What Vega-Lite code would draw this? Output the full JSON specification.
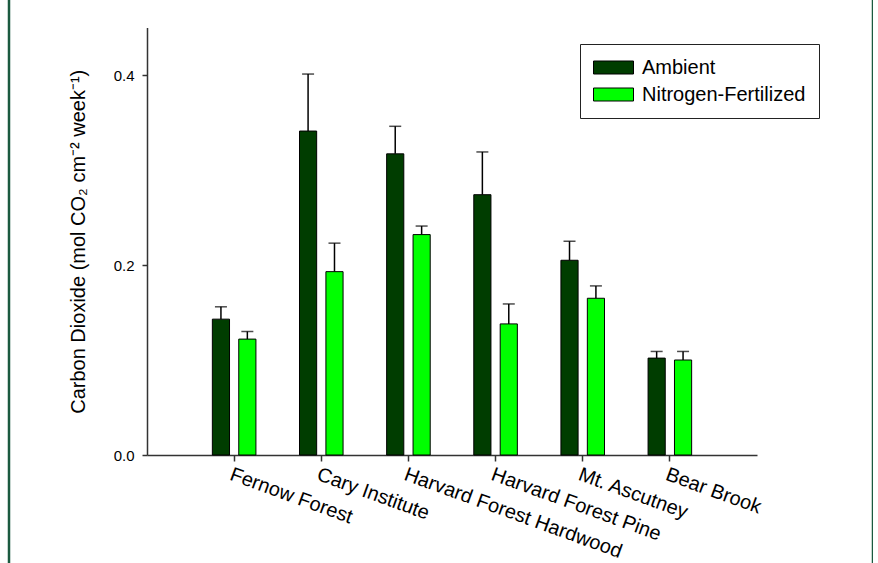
{
  "$schema": "https://vega.github.io/schema/vega-lite/v6.json",
  "width": 864,
  "height": 566,
  "autosize": {"type": "none"},
  "padding": {"left": 9, "top": 0, "right": 0, "bottom": 0},
  "background": "white",
  "config": {
    "font": "Liberation Sans",
    "view": {"stroke": "#1b5a40", "strokeWidth": 2.5, "strokeDash": [0, 864, 566, 864, 566, 0]},
    "axis": {"grid": false, "domainColor": "#333333", "tickColor": "#333333", "domainWidth": 1.5, "tickWidth": 1.5, "labelColor": "black", "titleColor": "black"}
  },
  "data": {
    "values": [
      {"site": "Fernow Forest", "treatment": "Ambient", "value": 0.143, "upper": 0.156},
      {"site": "Fernow Forest", "treatment": "Nitrogen-Fertilized", "value": 0.122, "upper": 0.130},
      {"site": "Cary Institute", "treatment": "Ambient", "value": 0.341, "upper": 0.401},
      {"site": "Cary Institute", "treatment": "Nitrogen-Fertilized", "value": 0.193, "upper": 0.223},
      {"site": "Harvard Forest Hardwood", "treatment": "Ambient", "value": 0.317, "upper": 0.346},
      {"site": "Harvard Forest Hardwood", "treatment": "Nitrogen-Fertilized", "value": 0.232, "upper": 0.241},
      {"site": "Harvard Forest Pine", "treatment": "Ambient", "value": 0.274, "upper": 0.319},
      {"site": "Harvard Forest Pine", "treatment": "Nitrogen-Fertilized", "value": 0.138, "upper": 0.159},
      {"site": "Mt. Ascutney", "treatment": "Ambient", "value": 0.205, "upper": 0.225},
      {"site": "Mt. Ascutney", "treatment": "Nitrogen-Fertilized", "value": 0.165, "upper": 0.178},
      {"site": "Bear Brook", "treatment": "Ambient", "value": 0.102, "upper": 0.109},
      {"site": "Bear Brook", "treatment": "Nitrogen-Fertilized", "value": 0.100, "upper": 0.109}
    ]
  },
  "encoding": {
    "x": {
      "field": "site", "type": "nominal", "sort": null,
      "scale": {"range": [138, 748], "paddingInner": 0.5, "paddingOuter": 0.75},
      "axis": {"orient": "bottom", "offset": -111, "title": null, "labelAngle": 20, "labelAlign": "left", "labelBaseline": "top", "labelFontSize": 20, "labelLimit": 0, "tickSize": 6, "labelPadding": 3}
    },
    "xOffset": {"field": "treatment", "type": "nominal", "scale": {"paddingInner": 0.35, "paddingOuter": 0}}
  },
  "layer": [
    {
      "mark": {"type": "bar", "stroke": "black", "strokeWidth": 1},
      "encoding": {
        "y": {
          "field": "value", "type": "quantitative",
          "scale": {"domain": [0, 0.45], "range": [455, 27.5], "nice": false, "zero": true},
          "axis": {"orient": "left", "offset": -138, "values": [0, 0.2, 0.4], "format": ".1f", "labelFontSize": 15, "tickSize": 5, "labelPadding": 8, "title": "Carbon Dioxide (mol CO₂ cm⁻² week⁻¹)", "titleFontSize": 20, "titleFontWeight": "normal", "titlePadding": 25}
        },
        "color": {
          "field": "treatment", "type": "nominal",
          "scale": {"domain": ["Ambient", "Nitrogen-Fertilized"], "range": ["#003d00", "#00ff00"]},
          "legend": {
            "orient": "none", "legendX": 571, "legendY": 44, "title": null,
            "strokeColor": "#222222", "fillColor": "white", "padding": 13,
            "labelFontSize": 20, "labelLimit": 0, "labelOffset": 28, "rowPadding": 6,
            "symbolType": "M-1,-0.65H3V0.65H-1Z", "symbolSize": 400,
            "symbolStrokeColor": "black", "symbolStrokeWidth": 1, "symbolOpacity": 1
          }
        }
      }
    },
    {
      "mark": {"type": "rule", "color": "black", "strokeWidth": 1.5},
      "encoding": {
        "y": {"field": "upper", "type": "quantitative"},
        "y2": {"field": "value"}
      }
    },
    {
      "mark": {"type": "tick", "color": "black", "thickness": 1.5, "size": 12},
      "encoding": {
        "y": {"field": "upper", "type": "quantitative"}
      }
    }
  ]
}
